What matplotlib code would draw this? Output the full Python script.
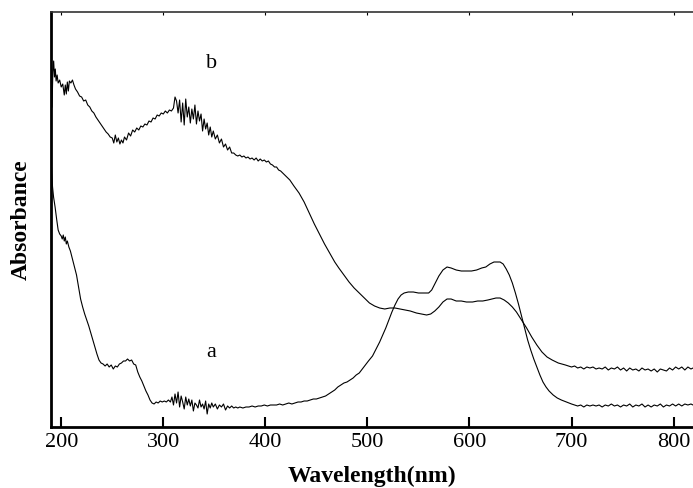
import matplotlib.pyplot as plt

# curve b (upper at short wavelengths)
wl_b = [191.0, 191.8, 192.6, 193.4, 194.2, 195.0, 196.0, 197.0, 198.5, 200.0,
        201.5, 203.0, 204.0, 205.0, 206.0, 207.0, 208.0, 209.5, 211.0, 212.5,
        214.0, 216.0, 218.0, 220.0, 222.0, 224.0, 226.0, 228.0, 230.0, 232.0,
        234.0, 236.0, 238.0, 240.0, 242.0, 244.0, 246.0, 248.0, 250.0, 251.5,
        253.0, 254.5, 256.0, 257.5, 259.0, 260.5, 262.0, 264.0, 266.0, 268.0,
        270.0, 272.0, 274.0, 276.0, 278.0, 280.0, 282.0, 284.0, 286.0, 288.0,
        290.0, 292.0, 294.0, 296.0, 298.0, 300.0, 302.0, 304.0, 306.0, 308.0,
        310.0, 311.5, 313.0, 314.5, 316.0, 317.5, 319.0, 320.5, 322.0, 323.5,
        325.0, 326.5, 328.0, 329.5, 331.0, 332.5, 334.0, 335.5, 337.0, 338.5,
        340.0, 341.5, 343.0, 344.5, 346.0, 347.5, 349.0, 351.0, 353.0, 355.0,
        357.0, 359.0, 361.0, 363.0, 365.0, 367.0, 369.0, 371.0, 373.0, 375.0,
        377.0, 379.0, 381.0, 383.0, 385.0, 387.0, 389.0, 391.0, 393.0, 395.0,
        397.0, 399.0, 401.0, 403.0, 405.0, 407.0, 409.0, 411.0, 413.0, 415.0,
        417.0, 420.0, 424.0, 428.0, 433.0, 438.0, 443.0, 448.0, 453.0, 458.0,
        463.0, 468.0, 472.0, 477.0, 482.0, 487.0, 492.0, 497.0, 502.0, 507.0,
        512.0, 517.0, 522.0, 527.0, 532.0, 537.0, 542.0, 548.0, 553.0, 558.0,
        562.0, 566.0, 570.0, 574.0, 578.0, 582.0, 587.0, 592.0, 597.0, 603.0,
        608.0, 613.0, 618.0, 622.0, 626.0, 630.0, 634.0, 638.0, 642.0, 646.0,
        651.0, 656.0, 661.0, 666.0, 671.0, 676.0, 681.0, 687.0, 694.0, 700.0,
        703, 706, 709, 712, 715, 718, 721, 724, 727, 730,
        733, 736, 739, 742, 745, 748, 751, 754, 757, 760,
        763, 766, 769, 772, 775, 778, 781, 784, 787, 790,
        793, 796, 799, 802, 805, 808, 811, 814, 817, 819]
abs_b = [3.20, 3.55, 3.66, 3.50, 3.58, 3.46, 3.52, 3.44, 3.47, 3.40,
         3.43, 3.32, 3.42, 3.33, 3.45, 3.36, 3.46, 3.44, 3.47, 3.42,
         3.38, 3.35, 3.31, 3.30, 3.26, 3.27, 3.22, 3.20, 3.16, 3.14,
         3.10, 3.07, 3.04, 3.01, 2.98, 2.95, 2.93, 2.90, 2.89, 2.84,
         2.92, 2.85, 2.89, 2.83, 2.87, 2.84, 2.90, 2.87, 2.94, 2.91,
         2.97, 2.95, 2.99, 2.97, 3.01, 3.00, 3.03, 3.02, 3.06, 3.05,
         3.09, 3.08, 3.12, 3.11, 3.14, 3.13, 3.16, 3.14, 3.17, 3.16,
         3.19, 3.30, 3.26, 3.14, 3.27, 3.05, 3.24, 3.02, 3.28, 3.10,
         3.20, 3.04, 3.18, 3.08, 3.22, 3.03, 3.16, 3.06, 3.13, 2.96,
         3.08, 2.98, 3.04, 2.92, 3.00, 2.90, 2.96, 2.88, 2.92, 2.84,
         2.88, 2.80, 2.83, 2.77, 2.80, 2.74, 2.74, 2.72, 2.71, 2.72,
         2.70, 2.71, 2.69, 2.70, 2.68, 2.69, 2.67, 2.69, 2.66, 2.68,
         2.66, 2.67, 2.65, 2.66, 2.63, 2.62, 2.60, 2.60, 2.57, 2.56,
         2.54, 2.51, 2.47, 2.41, 2.34, 2.25, 2.14, 2.03, 1.93, 1.83,
         1.74, 1.65, 1.59, 1.52, 1.45, 1.39, 1.34, 1.29, 1.24, 1.21,
         1.19, 1.18, 1.19, 1.19, 1.18, 1.17, 1.16, 1.14, 1.13, 1.12,
         1.13, 1.16, 1.20, 1.25, 1.28, 1.28, 1.26, 1.26, 1.25, 1.25,
         1.26, 1.26, 1.27, 1.28, 1.29, 1.29, 1.27, 1.24, 1.20, 1.15,
         1.07, 0.99, 0.90, 0.82, 0.75, 0.70, 0.67, 0.64, 0.62, 0.60,
         0.61, 0.59, 0.60, 0.58, 0.60, 0.59, 0.60, 0.58, 0.59, 0.58,
         0.60, 0.57, 0.59, 0.58, 0.60, 0.57, 0.59, 0.56, 0.59, 0.57,
         0.58, 0.56, 0.59, 0.57, 0.58, 0.56, 0.58, 0.55, 0.58, 0.57,
         0.56, 0.59, 0.57, 0.60, 0.58, 0.60, 0.57, 0.60, 0.58, 0.59]

# curve a (lower at short wavelengths)
wl_a = [190.2, 190.8, 191.5, 192.5, 194.0, 195.5, 197.0, 198.5, 200.0, 201.0,
        202.0, 203.0, 204.0, 205.0, 206.0, 207.5, 209.0, 211.0, 213.0, 215.0,
        217.0, 219.0, 221.0, 223.0, 225.0, 227.0, 229.0, 231.0, 233.0, 235.0,
        237.0, 239.0, 241.0, 243.0, 245.0, 247.0, 249.0, 251.0, 253.0, 255.0,
        257.0, 259.0, 261.0, 263.0, 265.0, 267.0, 269.0, 271.0, 273.0, 275.0,
        277.0, 279.0, 281.0, 283.0, 285.0, 287.0, 289.0, 291.0, 293.0, 295.0,
        297.0, 299.0, 301.0, 303.0, 305.0, 307.0, 308.5, 310.0, 311.5, 313.0,
        314.5, 316.0, 317.5, 319.0, 320.5, 322.0, 323.5, 325.0, 326.5, 328.0,
        329.5, 331.0, 332.5, 334.0, 335.5, 337.0, 338.5, 340.0, 341.5, 343.0,
        344.5, 346.0, 347.5, 349.0, 351.0, 353.0, 355.0, 357.0, 359.0, 361.0,
        363.0, 365.0, 367.0, 369.0, 371.0, 373.0, 375.0, 378.0, 381.0, 384.0,
        387.0, 390.0, 393.0, 396.0, 399.0, 402.0, 405.0, 408.0, 411.0, 414.0,
        417.0, 420.0, 423.0, 426.0, 429.0, 432.0, 435.0, 438.0, 441.0, 444.0,
        447.0, 450.0, 453.0, 456.0, 459.0, 462.0, 465.0, 468.0, 471.0, 474.0,
        477.0, 480.0, 483.0, 486.0, 489.0, 492.0, 495.0, 498.0, 501.0, 505.0,
        509.0, 512.0, 515.0, 518.0, 521.0, 524.0, 527.0, 530.0, 533.0, 536.0,
        540.0, 545.0, 550.0, 555.0, 560.0, 563.0, 566.0, 570.0, 574.0, 578.0,
        582.0, 587.0, 592.0, 597.0, 602.0, 607.0, 612.0, 616.0, 620.0, 624.0,
        627.0, 630.0, 633.0, 636.0, 639.0, 642.0, 645.0, 648.0, 651.0, 654.0,
        657.0, 660.0, 663.0, 666.0, 669.0, 672.0, 675.0, 678.0, 682.0, 686.0,
        690.0, 695.0, 700.0,
        703, 706, 709, 712, 715, 718, 721, 724, 727, 730,
        733, 736, 739, 742, 745, 748, 751, 754, 757, 760,
        763, 766, 769, 772, 775, 778, 781, 784, 787, 790,
        793, 796, 799, 802, 805, 808, 811, 814, 817, 819]
abs_a = [2.67, 2.52, 2.40, 2.30, 2.20, 2.08, 1.97, 1.93, 1.91, 1.88,
         1.92, 1.86, 1.90, 1.83, 1.86, 1.80, 1.76, 1.68, 1.60, 1.52,
         1.40, 1.28, 1.20, 1.13, 1.07, 1.01, 0.94, 0.87, 0.80, 0.73,
         0.67, 0.64, 0.63, 0.61, 0.63, 0.60, 0.62, 0.58, 0.61, 0.60,
         0.63, 0.64, 0.66, 0.66, 0.68, 0.66, 0.67, 0.63, 0.62, 0.55,
         0.50, 0.46, 0.41, 0.36, 0.32, 0.27, 0.24, 0.23, 0.25, 0.24,
         0.26, 0.25, 0.26, 0.25, 0.27, 0.25, 0.30, 0.22, 0.33, 0.24,
         0.35, 0.20, 0.31, 0.25, 0.18, 0.30, 0.22, 0.28, 0.21, 0.27,
         0.16, 0.24, 0.22, 0.19, 0.27, 0.20, 0.23, 0.18, 0.26, 0.13,
         0.23, 0.19, 0.24, 0.20, 0.23, 0.18, 0.22, 0.20, 0.23, 0.17,
         0.21, 0.19, 0.21, 0.19, 0.20, 0.19, 0.20, 0.19, 0.20, 0.20,
         0.21, 0.20, 0.21, 0.21, 0.22, 0.21, 0.22, 0.22, 0.22, 0.23,
         0.22, 0.23, 0.24, 0.23, 0.24, 0.25, 0.25, 0.26, 0.26, 0.27,
         0.28, 0.28, 0.29, 0.30, 0.31, 0.33, 0.35, 0.37, 0.40, 0.42,
         0.44, 0.45, 0.47, 0.49, 0.52, 0.54, 0.58, 0.62, 0.66, 0.71,
         0.79, 0.85, 0.92, 0.99, 1.07, 1.15, 1.22, 1.28, 1.32, 1.34,
         1.35, 1.35, 1.34, 1.34, 1.34, 1.37, 1.43, 1.51, 1.57, 1.60,
         1.59, 1.57, 1.56, 1.56, 1.56, 1.57, 1.59, 1.60, 1.63, 1.65,
         1.65, 1.65, 1.63, 1.58, 1.52, 1.44, 1.34, 1.23, 1.11, 0.99,
         0.87, 0.77, 0.68, 0.60, 0.52, 0.45, 0.40, 0.36, 0.32, 0.29,
         0.27, 0.25, 0.23,
         0.22, 0.21, 0.22, 0.20, 0.22, 0.21, 0.22, 0.21, 0.22, 0.20,
         0.22, 0.21, 0.23, 0.21, 0.22, 0.20, 0.22, 0.21, 0.23, 0.20,
         0.22, 0.21, 0.23, 0.20, 0.22, 0.20, 0.22, 0.21, 0.23, 0.20,
         0.22, 0.21, 0.23, 0.21, 0.23, 0.21, 0.23, 0.22, 0.23, 0.22]

x_ticks = [200, 300, 400, 500, 600, 700, 800]

plt.rcParams["font.family"] = ["Liberation Serif", "DejaVu Serif"]

fig = plt.figure(figsize=(6.93, 4.88), dpi=100)
ax = fig.add_axes([0.0736, 0.125, 0.9264, 0.8504])

ax.plot(wl_b, abs_b, color="black", linewidth=0.8)
ax.plot(wl_a, abs_a, color="black", linewidth=0.8)

ax.text(347, 3.64, "b", fontsize=16, ha="center", va="center")
ax.text(347, 0.75, "a", fontsize=16, ha="center", va="center")

ax.set_xlim(190, 819)
ax.set_ylim(0, 4.15)
ax.set_xticks(x_ticks)
ax.set_yticks([])
ax.tick_params(axis="x", direction="in", length=7, width=1.5, labelsize=16, pad=4,
               top=True, labeltop=False)
for t in ax.xaxis.get_major_ticks():
    t.tick2line.set_markersize(2)
    t.tick2line.set_markeredgewidth(0.8)

ax.spines["right"].set_visible(False)
ax.spines["left"].set_linewidth(2)
ax.spines["bottom"].set_linewidth(2)
ax.spines["top"].set_linewidth(1.2)
ax.spines["top"].set_color("#333333")

ax.set_xlabel("Wavelength(nm)", fontsize=17, fontweight="bold", labelpad=10)
ax.set_ylabel("Absorbance", fontsize=17, fontweight="bold", labelpad=14)

fig.savefig("out.png", dpi=100)
